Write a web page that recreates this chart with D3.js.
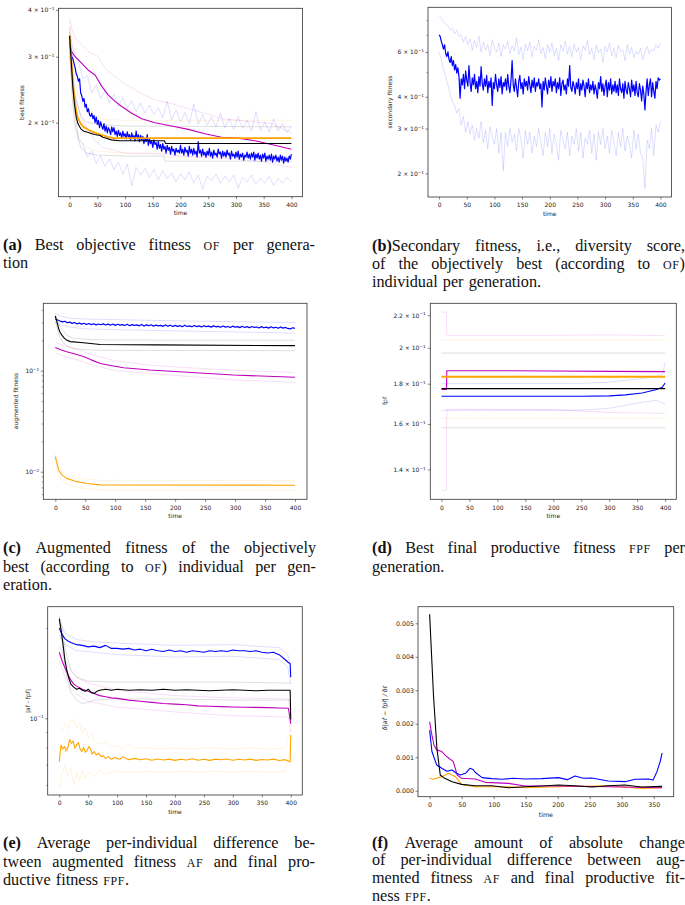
<!DOCTYPE html>
<html><head><meta charset="utf-8">
<script src="https://cdn.jsdelivr.net/npm/d3@7"></script>
<style>
html,body{margin:0;padding:0;background:#fff;}
svg{display:block;}
</style></head><body>
<svg id="fig" width="685" height="905"><defs></defs></svg>
<script>
// ---------------- DATA ----------------
const xTicks400 = [0,50,100,150,200,250,300,350,400];
const xTicks350 = [0,50,100,150,200,250,300,350];

// (a) best fitness
const a_blue = [0.330,0.312,0.300,0.296,0.288,0.280,0.270,0.266,0.258,0.262,0.240,0.236,0.228,0.232,0.220,0.224,0.214,0.218,0.210,0.208,
0.212,0.205,0.209,0.200,0.207,0.198,0.203,0.194,0.201,0.196,0.192,0.199,0.190,0.196,0.188,0.194,0.191,0.186,0.195,0.189,
0.194,0.186,0.190,0.184,0.191,0.185,0.188,0.182,0.190,0.184,0.187,0.181,0.189,0.183,0.186,0.180,0.188,0.182,0.185,0.179,
0.190,0.181,0.186,0.178,0.185,0.180,0.184,0.176,0.182,0.178,0.186,0.174,0.181,0.176,0.179,0.172,0.180,0.175,0.177,0.170,
0.178,0.171,0.175,0.168,0.176,0.170,0.173,0.166,0.174,0.169,0.172,0.165,0.173,0.168,0.170,0.164,0.171,0.167,0.169,0.166,
0.174,0.166,0.170,0.164,0.172,0.167,0.169,0.163,0.173,0.166,0.170,0.164,0.171,0.165,0.168,0.162,0.178,0.166,0.169,0.163,
0.170,0.164,0.167,0.162,0.168,0.164,0.171,0.163,0.167,0.161,0.169,0.164,0.166,0.162,0.170,0.165,0.167,0.161,0.168,0.163,
0.167,0.162,0.169,0.164,0.166,0.160,0.168,0.163,0.165,0.161,0.167,0.162,0.168,0.160,0.165,0.162,0.166,0.159,0.164,0.162,
0.167,0.161,0.165,0.160,0.166,0.162,0.167,0.159,0.165,0.161,0.166,0.160,0.164,0.158,0.165,0.161,0.166,0.158,0.163,0.160,
0.164,0.159,0.165,0.157,0.163,0.160,0.164,0.158,0.162,0.157,0.164,0.159,0.163,0.156,0.162,0.158,0.161,0.157,0.163,0.160,
0.165];
const a_blueHi = [0.350,0.305,0.290,0.262,0.268,0.240,0.252,0.232,0.243,0.226,
0.238,0.221,0.233,0.218,0.229,0.214,0.226,0.212,0.223,0.210,
0.219,0.206,0.228,0.204,0.216,0.201,0.213,0.199,0.224,0.198,
0.210,0.197,0.207,0.195,0.212,0.194,0.205,0.192,0.208,0.193,
0.203,0.190,0.214,0.191,0.201,0.189,0.205,0.190,0.199,0.188,
0.196];
const a_blueLo = [0.310,0.225,0.180,0.176,0.162,0.168,0.156,0.163,0.153,0.160,
0.150,0.157,0.146,0.155,0.136,0.152,0.145,0.151,0.143,0.150,
0.141,0.149,0.142,0.147,0.139,0.146,0.141,0.148,0.138,0.145,
0.133,0.144,0.140,0.146,0.138,0.144,0.139,0.145,0.134,0.143,
0.139,0.145,0.137,0.142,0.138,0.144,0.136,0.142,0.138,0.143,
0.139];
const a_black = [[0,0.341],[3,0.291],[6,0.247],[9,0.223],[12,0.207],[15,0.199],[20,0.193],[25,0.190],[35,0.188],[45,0.186],[55,0.185],[60,0.183],[65,0.182],[75,0.180],[90,0.179],[171,0.179],[173,0.176],[400,0.176]];
const a_blackHi = [[0,0.36],[5,0.28],[10,0.235],[20,0.208],[30,0.201],[50,0.198],[100,0.196],[400,0.195]];
const a_blackLo = [[0,0.32],[5,0.23],[10,0.195],[20,0.172],[30,0.166],[50,0.164],[100,0.163],[170,0.163],[172,0.158],[400,0.158]];
const a_orange = [[0,0.341],[3,0.295],[6,0.255],[9,0.230],[12,0.215],[15,0.206],[20,0.199],[25,0.195],[35,0.191],[50,0.187],[60,0.185],[70,0.183],[80,0.182],[400,0.182]];
const a_orangeHi = [[0,0.375],[5,0.30],[10,0.255],[20,0.228],[30,0.215],[45,0.208],[60,0.204],[100,0.203],[400,0.203]];
const a_orangeLo = [[0,0.32],[5,0.235],[10,0.20],[20,0.178],[30,0.172],[50,0.168],[100,0.166],[170,0.166],[172,0.162],[400,0.162]];
const a_magenta = [[0,0.341],[2,0.315],[4,0.309],[10,0.300],[22,0.288],[34,0.276],[46,0.268],[58,0.250],[70,0.237],[82,0.228],[94,0.221],[112,0.212],[130,0.205],[154,0.200],[184,0.196],[214,0.192],[244,0.187],[274,0.183],[304,0.182],[334,0.179],[364,0.175],[400,0.170]];
const a_magentaHi = [[0,0.380],[4,0.355],[10,0.336],[34,0.309],[52,0.300],[64,0.279],[94,0.257],[124,0.242],[154,0.230],[184,0.225],[214,0.218],[244,0.212],[274,0.205],[304,0.203],[334,0.201],[364,0.199],[400,0.188]];
const a_magentaLo = [[0,0.30],[5,0.26],[10,0.235],[20,0.21],[30,0.195],[45,0.18],[60,0.172],[100,0.166],[170,0.165],[200,0.163],[300,0.160],[350,0.157],[400,0.152]];

// (b) secondary fitness
const b_blue = [0.700,0.690,0.660,0.640,0.615,0.640,0.590,0.575,0.600,0.560,0.545,0.575,0.530,0.555,0.510,0.535,0.495,0.520,0.480,0.395,
0.470,0.445,0.490,0.430,0.505,0.465,0.440,0.530,0.455,0.420,0.475,0.445,0.490,0.430,0.460,0.415,0.480,0.440,0.525,0.450,
0.425,0.470,0.440,0.485,0.415,0.460,0.435,0.475,0.370,0.455,0.430,0.490,0.445,0.420,0.470,0.435,0.480,0.410,0.455,0.440,
0.470,0.425,0.490,0.440,0.415,0.465,0.555,0.445,0.420,0.470,0.435,0.400,0.460,0.485,0.430,0.455,0.410,0.470,0.440,0.460,
0.425,0.480,0.445,0.415,0.465,0.435,0.475,0.420,0.455,0.440,0.470,0.430,0.450,0.365,0.460,0.425,0.475,0.440,0.410,0.465,
0.435,0.480,0.420,0.460,0.440,0.470,0.415,0.455,0.430,0.475,0.405,0.450,0.465,0.425,0.445,0.410,0.470,0.440,0.530,0.435,
0.420,0.460,0.440,0.410,0.455,0.430,0.470,0.405,0.450,0.425,0.465,0.440,0.400,0.455,0.430,0.470,0.415,0.445,0.425,0.460,
0.410,0.445,0.425,0.395,0.455,0.430,0.480,0.420,0.450,0.405,0.440,0.465,0.400,0.455,0.425,0.470,0.410,0.445,0.420,0.460,
0.415,0.445,0.405,0.470,0.430,0.415,0.450,0.395,0.460,0.425,0.410,0.455,0.430,0.400,0.465,0.420,0.445,0.405,0.460,0.415,
0.400,0.450,0.425,0.385,0.440,0.410,0.355,0.420,0.470,0.405,0.445,0.470,0.400,0.455,0.420,0.395,0.460,0.430,0.475,0.465,
0.470];
const b_blueHi = [0.830,0.815,0.790,0.770,0.760,0.730,0.745,0.705,0.730,0.690,
0.700,0.655,0.690,0.640,0.675,0.610,0.665,0.625,0.690,0.600,
0.655,0.610,0.640,0.580,0.670,0.620,0.600,0.650,0.575,0.640,
0.615,0.660,0.590,0.635,0.605,0.680,0.585,0.625,0.560,0.645,
0.605,0.655,0.575,0.630,0.610,0.670,0.590,0.625,0.565,0.640,
0.600,0.650,0.580,0.620,0.555,0.640,0.605,0.660,0.590,0.630,
0.575,0.645,0.600,0.625,0.560,0.635,0.610,0.665,0.585,0.620,
0.560,0.640,0.595,0.615,0.545,0.630,0.600,0.650,0.580,0.620,
0.570,0.635,0.600,0.610,0.555,0.640,0.590,0.625,0.570,0.605,
0.585,0.620,0.560,0.600,0.630,0.590,0.615,0.605,0.640,0.620,
0.650];
const b_blueLo = [0.600,0.560,0.515,0.480,0.445,0.410,0.385,0.370,0.345,0.360,
0.310,0.335,0.290,0.320,0.285,0.310,0.270,0.300,0.275,0.320,
0.265,0.295,0.250,0.305,0.280,0.260,0.300,0.240,0.290,0.205,
0.290,0.255,0.300,0.265,0.285,0.245,0.300,0.270,0.230,0.295,
0.260,0.290,0.240,0.280,0.255,0.300,0.265,0.235,0.290,0.255,
0.300,0.240,0.285,0.260,0.225,0.295,0.270,0.250,0.290,0.235,
0.280,0.260,0.300,0.245,0.290,0.230,0.275,0.260,0.295,0.240,
0.285,0.225,0.290,0.260,0.300,0.250,0.280,0.240,0.295,0.265,
0.235,0.290,0.255,0.300,0.245,0.280,0.260,0.230,0.295,0.250,
0.285,0.240,0.230,0.175,0.270,0.250,0.300,0.235,0.310,0.290,
0.320];

// (c) augmented fitness
const c_blue = [0.325,0.318,0.310,0.304,0.309,0.298,0.303,0.294,0.300,0.291,
0.297,0.289,0.295,0.287,0.293,0.286,0.292,0.284,0.290,0.285,
0.291,0.283,0.289,0.282,0.290,0.281,0.288,0.283,0.286,0.280,
0.288,0.279,0.286,0.281,0.284,0.278,0.287,0.277,0.284,0.279,
0.285,0.276,0.283,0.278,0.281,0.275,0.284,0.276,0.282,0.274,
0.281,0.275,0.279,0.273,0.282,0.274,0.278,0.272,0.280,0.273,
0.278,0.271,0.279,0.273,0.276,0.270,0.278,0.272,0.275,0.269,
0.277,0.270,0.274,0.268,0.276,0.270,0.273,0.267,0.275,0.268,
0.273,0.266,0.274,0.268,0.271,0.265,0.273,0.266,0.270,0.264,
0.272,0.265,0.269,0.263,0.271,0.264,0.268,0.262,0.259,0.266,
0.262];
const c_blueHi = [[0,0.37],[10,0.345],[25,0.33],[50,0.325],[100,0.32],[200,0.312],[300,0.305],[400,0.30]];
const c_blueLo = [[0,0.30],[10,0.285],[25,0.27],[50,0.26],[100,0.255],[200,0.248],[300,0.242],[400,0.235]];
const c_black = [[0,0.348],[3,0.30],[5.5,0.262],[8,0.240],[11,0.225],[15,0.210],[19,0.201],[25,0.194],[47,0.189],[75,0.182],[169,0.180],[400,0.177]];
const c_blackHi = [[0,0.36],[5,0.30],[10,0.26],[19,0.225],[30,0.21],[60,0.203],[100,0.201],[400,0.200]];
const c_blackLo = [[0,0.31],[5,0.24],[10,0.20],[19,0.175],[30,0.165],[60,0.16],[100,0.159],[400,0.158]];
const c_magenta = [[0,0.170],[5,0.165],[10,0.160],[19,0.154],[30,0.148],[47,0.138],[60,0.128],[75,0.118],[95,0.112],[114,0.107],[158,0.1015],[214,0.097],[297,0.0906],[400,0.086]];
const c_magentaHi = [[0,0.194],[10,0.180],[30,0.168],[60,0.145],[100,0.125],[160,0.113],[220,0.107],[300,0.101],[400,0.096]];
const c_magentaLo = [[0,0.150],[10,0.142],[30,0.132],[60,0.115],[100,0.100],[160,0.094],[220,0.088],[300,0.081],[400,0.0767]];
const c_orange = [[0,0.01408],[5.5,0.0104],[11,0.0093],[19,0.00859],[36,0.00797],[53,0.00764],[75,0.00741],[400,0.00735]];
const c_orangeHi = [[0,0.0152],[5,0.0115],[10,0.0102],[20,0.0092],[40,0.0086],[75,0.0082],[400,0.00815]];
const c_orangeLo = [[0,0.013],[5,0.0095],[10,0.0083],[19,0.0075],[40,0.0069],[75,0.0066],[400,0.00658]];

// (d) best final productive fitness
const d_magenta = [[0,0.1770],[9,0.1770],[9.5,0.1870],[100,0.1870],[200,0.1868],[300,0.1866],[400,0.1865]];
const d_magentaHi = [[0,0.222],[9,0.222],[9.5,0.2074],[200,0.2074],[300,0.2077],[400,0.2072]];
const d_magentaLo = [[0,0.1318],[9,0.1318],[9.5,0.167],[200,0.1668],[300,0.1655],[400,0.165]];
const d_orange = [[0,0.1837],[400,0.1837]];
const d_orangeHi = [[0,0.2045],[400,0.2045]];
const d_orangeLo = [[0,0.1626],[400,0.1626]];
const d_black = [[0,0.1774],[400,0.1774]];
const d_blackHi = [[0,0.1969],[400,0.1969]];
const d_blackLo = [[0,0.1582],[400,0.1582]];
const d_blue = [[0,0.1735],[250,0.1735],[300,0.1737],[329,0.1742],[359,0.1752],[383,0.1768],[395,0.1781],[400,0.1804]];
const d_blueHi = [[0,0.1800],[250,0.1802],[300,0.1808],[330,0.1818],[360,0.1828],[385,0.1840],[395,0.1850],[400,0.1914]];
const d_blueLo = [[0,0.1665],[250,0.1666],[300,0.1675],[330,0.169],[360,0.1705],[385,0.1715],[400,0.1695]];

// (e) |af - fpf|
const e_blue = [[0,0.200],[5,0.190],[10,0.184],[15,0.181],[20,0.179],[30,0.176],[40,0.175],[50,0.173],[60,0.174],[70,0.172],[80,0.175],[90,0.171],[100,0.171],[110,0.170],[120,0.171],[130,0.169],[140,0.170],[150,0.168],[160,0.170],[170,0.168],[180,0.167],[190,0.169],[200,0.167],[210,0.168],[220,0.166],[230,0.168],[240,0.167],[250,0.166],[260,0.168],[270,0.167],[280,0.168],[290,0.167],[300,0.169],[310,0.168],[320,0.168],[330,0.167],[340,0.168],[350,0.166],[360,0.165],[370,0.166],[380,0.163],[390,0.157],[395,0.154],[399,0.152],[400,0.137]];
const e_blueHi = [[0,0.212],[10,0.192],[30,0.183],[60,0.180],[100,0.178],[200,0.175],[300,0.176],[380,0.172],[395,0.163],[400,0.150]];
const e_blueLo = [[0,0.190],[10,0.176],[30,0.168],[60,0.166],[100,0.163],[200,0.160],[300,0.161],[380,0.157],[395,0.148],[400,0.130]];
const e_black = [[0,0.215],[4,0.192],[7,0.173],[10,0.155],[13,0.145],[16,0.137],[20,0.130],[25,0.127],[30,0.125],[35,0.126],[40,0.124],[45,0.123],[50,0.125],[55,0.122],[60,0.121],[65,0.123],[70,0.124],[80,0.125],[90,0.124],[100,0.125],[120,0.124],[140,0.1245],[160,0.124],[180,0.125],[200,0.124],[220,0.1245],[240,0.124],[260,0.1235],[280,0.124],[300,0.1245],[320,0.124],[340,0.1235],[360,0.124],[380,0.124],[399,0.124],[400,0.099]];
const e_blackHi = [[0,0.22],[5,0.20],[10,0.17],[20,0.145],[30,0.137],[50,0.133],[100,0.132],[200,0.132],[300,0.132],[400,0.131]];
const e_blackLo = [[0,0.21],[5,0.18],[10,0.145],[20,0.122],[30,0.115],[40,0.112],[50,0.113],[60,0.115],[100,0.116],[200,0.116],[300,0.115],[400,0.115]];
const e_magenta = [[0,0.166],[5,0.155],[10,0.147],[15,0.140],[20,0.134],[25,0.130],[30,0.128],[40,0.125],[50,0.123],[60,0.121],[70,0.119],[80,0.118],[90,0.117],[100,0.1165],[120,0.115],[140,0.114],[160,0.113],[180,0.112],[200,0.1115],[220,0.111],[240,0.110],[260,0.1097],[280,0.1094],[300,0.109],[320,0.1088],[340,0.1087],[360,0.1085],[380,0.1082],[396,0.108],[400,0.096]];
const e_magentaHi = [[0,0.175],[10,0.158],[20,0.144],[30,0.137],[50,0.131],[100,0.124],[200,0.119],[300,0.117],[396,0.116],[400,0.103]];
const e_magentaLo = [[0,0.157],[10,0.137],[20,0.126],[30,0.120],[50,0.114],[100,0.109],[200,0.105],[300,0.102],[396,0.101],[400,0.090]];
const e_orange = [[0,0.0717],[3,0.0815],[6,0.0790],[9,0.0805],[12,0.0780],[15,0.0800],[18,0.0850],[21,0.0825],[24,0.0840],[27,0.0795],[30,0.0815],[33,0.0830],[36,0.0790],[39,0.0775],[42,0.0800],[45,0.0770],[48,0.0780],[51,0.0805],[54,0.0790],[57,0.0760],[60,0.0775],[64,0.0755],[68,0.0765],[72,0.0745],[76,0.0750],[80,0.0735],[85,0.0745],[90,0.0730],[95,0.0740],[100,0.0735],[105,0.0730],[110,0.0745],[115,0.0735],[120,0.0728],[130,0.0735],[140,0.0727],[150,0.0733],[160,0.0725],[170,0.0732],[180,0.0726],[190,0.0731],[200,0.0724],[210,0.0730],[220,0.0726],[230,0.0733],[240,0.0725],[250,0.0730],[260,0.0724],[270,0.0731],[280,0.0727],[290,0.0732],[300,0.0725],[310,0.0730],[320,0.0726],[330,0.0731],[340,0.0724],[350,0.0729],[360,0.0726],[370,0.0731],[380,0.0723],[390,0.0728],[396,0.0720],[399,0.0715],[400,0.088]];
const e_orangeHi = [[0,0.092],[5,0.090],[10,0.096],[15,0.092],[20,0.098],[25,0.099],[30,0.093],[35,0.096],[40,0.089],[45,0.093],[50,0.086],[55,0.089],[60,0.084],[70,0.082],[80,0.083],[90,0.080],[100,0.081],[110,0.079],[120,0.082],[130,0.0795],[150,0.0800],[170,0.0790],[200,0.0795],[230,0.0790],[260,0.0797],[300,0.0790],[330,0.0796],[360,0.0789],[390,0.0795],[400,0.092]];
const e_orangeLo = [[0,0.059],[5,0.066],[10,0.070],[15,0.064],[20,0.068],[25,0.060],[30,0.066],[35,0.062],[40,0.067],[45,0.063],[50,0.066],[60,0.064],[70,0.067],[80,0.065],[90,0.066],[100,0.0668],[120,0.0660],[150,0.0665],[180,0.0660],[210,0.0666],[240,0.0662],[270,0.0667],[300,0.0661],[330,0.0666],[360,0.0662],[390,0.0665],[400,0.080]];

// (f) change of |af - fpf|
const f_black = [[0,0.00527],[6,0.00286],[11.4,0.00126],[16.6,0.00047],[22,0.00039],[35,0.00027],[50,0.00019],[71,0.00015],[97,0.00015],[123,0.00009],[149,0.00012],[175,0.00014],[201,0.00017],[227,0.00015],[253,0.00011],[279,0.00015],[305,0.00017],[331,0.00011],[363,0.00013]];
const f_magenta = [[0,0.00206],[3.6,0.00166],[7,0.00135],[11,0.00122],[19,0.00117],[25,0.00105],[30,0.00097],[37,0.00087],[43,0.00047],[50,0.00037],[71,0.00035],[87,0.00025],[123,0.00022],[149,0.00014],[200,0.00014],[279,0.00012],[363,0.00009]];
const f_blue = [[0,0.00181],[3.6,0.00117],[11,0.00077],[19,0.00067],[27,0.00058],[35,0.00062],[42,0.00052],[48,0.00047],[56,0.00052],[63,0.00067],[68,0.00063],[71,0.00055],[82,0.00039],[97,0.00036],[113,0.00034],[130,0.00037],[149,0.00035],[175,0.00036],[201,0.00039],[215,0.00033],[227,0.00044],[240,0.00037],[253,0.00038],[279,0.00029],[305,0.00027],[321,0.00034],[342,0.00035],[349,0.00032],[355,0.00057],[360,0.00087],[363,0.00112]];
const f_orange = [[0,0.00037],[6,0.00034],[19,0.00042],[30,0.00052],[40,0.00042],[50,0.00019],[71,0.00012],[123,0.00012],[149,0.00009],[201,0.00012],[279,0.00015],[331,0.00007],[363,0.00009]];

// tick values
const a_yTicks = [0.2,0.3,0.4];
const b_yTicks = [0.2,0.3,0.4,0.6], b_yMinor = [0.5,0.7,0.8];
const c_yTicks = [0.01,0.1], c_yMinor = [0.006,0.007,0.008,0.009,0.02,0.03,0.04,0.05,0.06,0.07,0.08,0.09,0.2,0.3,0.4];
const d_yTicks = [0.14,0.16,0.18,0.2,0.22];
const e_yTicks = [0.1], e_yMinor = [0.06,0.07,0.08,0.09,0.2];
const f_yTicks = [0,0.001,0.002,0.003,0.004,0.005];

// ---------------- DRAWING ----------------
const COL = {blue:"#0000ff", magenta:"#bf00bf", orange:"#ffa500", black:"#000000"};
const SANS = '"DejaVu Sans"';
const SERIF = '"Liberation Serif", serif';
const svg = d3.select("#fig");
const defs = svg.select("defs");
const even = (vals, tEnd) => vals.map((v,i)=>[i*tEnd/(vals.length-1), v]);
const band = (data, c) => ({data, color:COL[c], w:1, op:0.13});
const main = (data, c, w) => ({data, color:COL[c], w:w||1.1, op:1});

function fmtLog(v){
  const e = Math.floor(Math.log10(v)+1e-9);
  const m = +(v/Math.pow(10,e)).toFixed(2);
  return {m: m===1 ? "" : String(m), e: "\u2212"+Math.abs(e)};
}

function drawPanel(p){
  const [x0,x1,y0,y1] = p.box;
  const fs = p.fs||6;
  const x = d3.scaleLinear().domain(p.xDomain).range([x0,x1]);
  const y = (p.log ? d3.scaleLog() : d3.scaleLinear()).domain(p.yDomain).range([y1,y0]);
  const g = svg.append("g");
  defs.append("clipPath").attr("id","clip-"+p.id).append("rect")
    .attr("x",x0).attr("y",y0).attr("width",x1-x0).attr("height",y1-y0);
  const plot = g.append("g").attr("clip-path",`url(#clip-${p.id})`);
  const line = d3.line().x(d=>x(d[0])).y(d=>y(d[1]));
  p.series.forEach(s=>{
    plot.append("path").datum(s.data).attr("d",line)
      .attr("fill","none").attr("stroke",s.color).attr("stroke-width",s.w)
      .attr("stroke-opacity",s.op).attr("stroke-linejoin","round");
  });
  g.append("rect").attr("x",x0).attr("y",y0).attr("width",x1-x0).attr("height",y1-y0)
    .attr("fill","none").attr("stroke","#333").attr("stroke-width",0.8);

  const xa = g.append("g").attr("transform",`translate(0,${y1})`)
    .call(d3.axisBottom(x).tickValues(p.xTicks).tickSize(2.5).tickPadding(3.6).tickFormat(d3.format("d")));
  const ya = g.append("g").attr("transform",`translate(${x0},0)`)
    .call(d3.axisLeft(y).tickValues(p.yTicks).tickSize(2.5).tickPadding(p.yPad||1.6)
      .tickFormat(p.log ? (d=>"") : d3.format(".3f")));
  if(p.yMinor){
    const ym = g.append("g").attr("transform",`translate(${x0},0)`)
      .call(d3.axisLeft(y).tickValues(p.yMinor).tickSize(1.5).tickFormat(""));
    ym.select(".domain").remove();
    ym.selectAll("line").attr("stroke","#333").attr("stroke-width",0.5);
  }
  [xa,ya].forEach(a=>{
    a.select(".domain").remove();
    a.attr("font-size",fs).style("font-family",SANS);
    a.selectAll("line").attr("stroke","#333").attr("stroke-width",0.6);
    a.selectAll("text").attr("fill","#222");
  });
  if(p.log){
    ya.selectAll(".tick text").each(function(d){
      const t = d3.select(this); t.text(null);
      const f = fmtLog(d);
      t.append("tspan").text(f.m ? f.m+" \u00d7 10" : "10");
      t.append("tspan").attr("font-size",fs*0.7).attr("dy","-0.55em").text(f.e);
    });
  }
  g.append("text").attr("x",(x0+x1)/2).attr("y",y1+p.xlabDy)
    .attr("text-anchor","middle").style("font-family",SANS).attr("font-size",fs)
    .attr("fill","#222").text("time");
  g.append("text").attr("transform",`translate(${p.ylab[0]},${p.ylab[1]}) rotate(-90)`)
    .attr("text-anchor","middle").style("font-family",SANS).attr("font-size",fs)
    .attr("font-style",p.ylabItalic?"italic":"normal")
    .attr("fill","#222").text(p.ylabel);
}

drawPanel({id:"a", box:[58.5,302.5,8.3,196.7], xDomain:[-20,420], yDomain:[0.1270,0.4038], log:true,
  xTicks:xTicks400, yTicks:a_yTicks, ylabel:"best fitness", ylab:[23.8,102.5], xlabDy:18.7,
  series:[band(a_blackHi,"black"),band(a_blackLo,"black"),band(a_orangeHi,"orange"),band(a_orangeLo,"orange"),
    band(a_magentaHi,"magenta"),band(a_magentaLo,"magenta"),band(even(a_blueHi,400),"blue"),band(even(a_blueLo,400),"blue"),
    main(even(a_blue,400),"blue",1.2),main(a_magenta,"magenta"),main(a_orange,"orange",1.8),main(a_black,"black")]});

drawPanel({id:"b", box:[428,671.5,7.3,197], xDomain:[-20,420], yDomain:[0.1616,0.898], log:true,
  xTicks:xTicks400, yTicks:b_yTicks, yMinor:b_yMinor, ylabel:"secondary fitness", ylab:[392,102], xlabDy:18.7,
  series:[band(even(b_blueHi,400),"blue"),band(even(b_blueLo,400),"blue"),main(even(b_blue,400),"blue",1.2)]});

drawPanel({id:"c", box:[43.3,307,303.3,499.3], xDomain:[-20,420], yDomain:[0.00533,0.4648], log:true,
  xTicks:xTicks400, yTicks:c_yTicks, yMinor:c_yMinor, ylabel:"augmented fitness", ylab:[18,401], xlabDy:18.5,
  series:[band(c_blackHi,"black"),band(c_blackLo,"black"),band(c_orangeHi,"orange"),band(c_orangeLo,"orange"),
    band(c_magentaHi,"magenta"),band(c_magentaLo,"magenta"),band(c_blueHi,"blue"),band(c_blueLo,"blue"),
    main(even(c_blue,400),"blue",1.2),main(c_magenta,"magenta"),main(c_orange,"orange"),main(c_black,"black")]});

drawPanel({id:"d", box:[430.3,676.3,303.3,499.3], xDomain:[-20,420], yDomain:[0.1283,0.2278], log:true,
  xTicks:xTicks400, yTicks:d_yTicks, ylabel:"fpf", ylab:[386.6,401], xlabDy:18.5, yPad:2.2,
  series:[band(d_blackHi,"black"),band(d_blackLo,"black"),band(d_orangeHi,"orange"),band(d_orangeLo,"orange"),
    band(d_magentaHi,"magenta"),band(d_magentaLo,"magenta"),band(d_blueHi,"blue"),band(d_blueLo,"blue"),
    main(d_blue,"blue"),main(d_magenta,"magenta"),main(d_orange,"orange",2),main(d_black,"black")]});

drawPanel({id:"e", box:[47.7,302.3,606.7,795], xDomain:[-20,420], yDomain:[0.0555,0.2355], log:true,
  xTicks:xTicks400, yTicks:e_yTicks, yMinor:e_yMinor, ylabel:"|af - fpf|", ylab:[30.3,701], xlabDy:18.5,
  series:[band(e_blackHi,"black"),band(e_blackLo,"black"),band(e_orangeHi,"orange"),band(e_orangeLo,"orange"),
    band(e_magentaHi,"magenta"),band(e_magentaLo,"magenta"),band(e_blueHi,"blue"),band(e_blueLo,"blue"),
    main(e_blue,"blue"),main(e_magenta,"magenta"),main(e_orange,"orange"),main(e_black,"black")]});

drawPanel({id:"f", box:[418,673.7,606.7,796.7], xDomain:[-18.15,381.15], yDomain:[-0.000179,0.005496], log:false,
  xTicks:xTicks350, yTicks:f_yTicks, ylabel:"\u03b4|af \u2212 fpf| / \u03b4t", ylabItalic:true, ylab:[386.8,708], xlabDy:20.5, fs:6.3,
  series:[main(f_orange,"orange"),main(f_magenta,"magenta"),main(f_blue,"blue"),main(f_black,"black")]});

// ---------------- CAPTIONS ----------------
const capA = [[{b:"(a)"}," Best objective fitness ",{sc:"OF"}," per genera-"],["tion"]];
const capB = [[{b:"(b)"},"Secondary fitness, i.e., diversity score,"],["of the objectively best (according to ",{sc:"OF"},")"],["individual per generation."]];
const capC = [[{b:"(c)"}," Augmented fitness of the objectively"],["best (according to ",{sc:"OF"},") individual per gen-"],["eration."]];
const capD = [[{b:"(d)"}," Best final productive fitness ",{sc:"FPF"}," per"],["generation."]];
const capE = [[{b:"(e)"}," Average per-individual difference be-"],["tween augmented fitness ",{sc:"AF"}," and final pro-"],["ductive fitness ",{sc:"FPF"},"."]];
const capF = [[{b:"(f)"}," Average amount of absolute change"],["of per-individual difference between aug-"],["mented fitness ",{sc:"AF"}," and final productive fit-"],["ness ",{sc:"FPF"},"."]];

// Lay out each caption line word by word, justifying full lines with inter-word space like LaTeX.
const CAP_FS = 16.2;
function caption(lines, x, y, width, lead){
  lines.forEach((segs, i)=>{
    const words = []; let cur = [];
    segs.forEach(s=>{
      const part = typeof s === "string" ? {t:s, k:"n"} : (s.b ? {t:s.b, k:"b"} : {t:s.sc, k:"sc"});
      part.t.split(" ").forEach((pc, j)=>{
        if(j > 0){ if(cur.length) words.push(cur); cur = []; }
        if(pc.length) cur.push({t:pc, k:part.k});
      });
    });
    if(cur.length) words.push(cur);
    const yy = y + i*(lead||18.35);
    const els = words.map(w=>{
      const t = svg.append("text").attr("y",yy).style("font-family",SERIF)
        .attr("font-size",CAP_FS).attr("fill","#111");
      w.forEach(p=>{
        const ts = t.append("tspan").text(p.t);
        if(p.k === "b") ts.attr("font-weight","bold");
        if(p.k === "sc") ts.attr("font-size",CAP_FS*0.74).attr("letter-spacing",0.6);
      });
      return t;
    });
    const widths = els.map(e=>e.node().getComputedTextLength());
    const justify = i < lines.length-1 && els.length > 1;
    const gap = justify ? (width - d3.sum(widths))/(els.length-1) : 5.2;
    let cx = x;
    els.forEach((e,k)=>{ e.attr("x",cx); cx += widths[k] + gap; });
  });
}
caption(capA, 3, 250, 312);
caption(capB, 372, 250.7, 313);
caption(capC, 3, 553.3, 313);
caption(capD, 372, 553.3, 313);
caption(capE, 3, 848.3, 312);
caption(capF, 372, 847.8, 313, 17.6);
</script></body></html>
